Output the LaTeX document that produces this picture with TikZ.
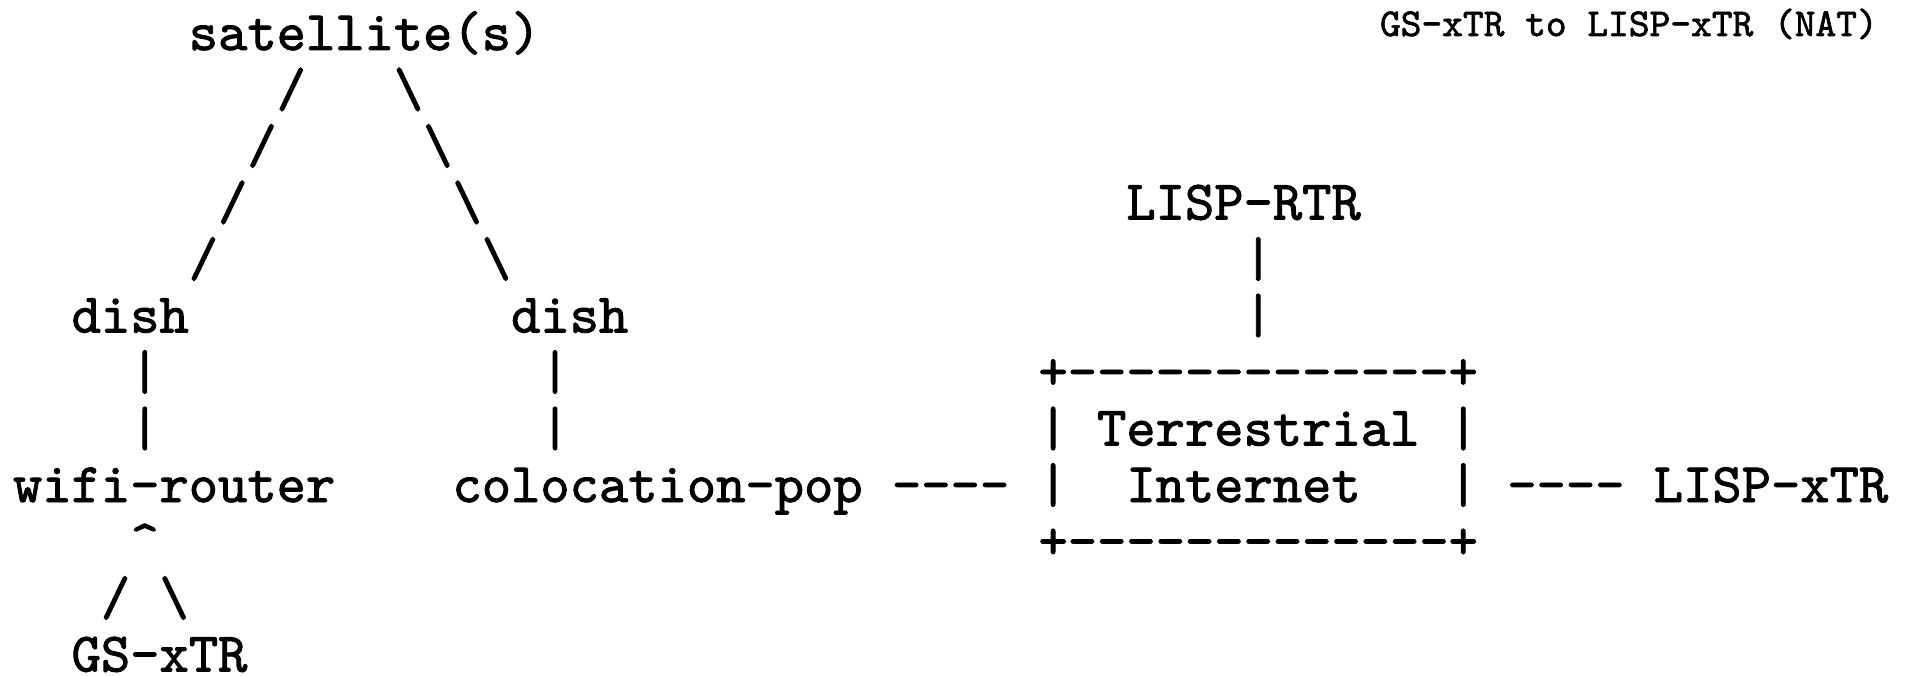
\documentclass[tikz,border=0pt]{standalone}
\usepackage{fontspec}
\setmonofont{lmmono10-regular.otf}[FakeBold=1.6]
\newcommand\asc[4]{\node[asciitxt] (#1) at ({13+29.3*(#2)},{50+56.5*(#3)}) {#4};}
\begin{document}
\begin{tikzpicture}[x=1pt,y=-1pt]
\tikzset{
  asciitxt/.style={anchor=base west, inner sep=0pt, outer sep=0pt, text=black,
    font=\ttfamily\fontsize{55.8}{55.8}\selectfont},
  titletxt/.style={anchor=base west, inner sep=0pt, outer sep=0pt, text=black,
    font=\ttfamily\fontsize{39.5}{39.5}\selectfont}
}
\fill[white] (0,0) rectangle (1915,676);
\useasboundingbox (0,0) rectangle (1915,676);
\node[titletxt] (title) at (1380,36) {GS-xTR to LISP-xTR (NAT)};
% satellite tree
\asc{sat}{6}{0}{satellite(s)}
\asc{sl1}{9}{1}{/}\asc{sr1}{13}{1}{\textbackslash}
\asc{sl2}{8}{2}{/}\asc{sr2}{14}{2}{\textbackslash}
\asc{sl3}{7}{3}{/}\asc{sr3}{15}{3}{\textbackslash}
\asc{sl4}{6}{4}{/}\asc{sr4}{16}{4}{\textbackslash}
\asc{dishL}{2}{5}{dish}\asc{dishR}{17}{5}{dish}
\asc{vl1}{4}{6}{|}\asc{vr1}{18}{6}{|}
\asc{vl2}{4}{7}{|}\asc{vr2}{18}{7}{|}
% RTR
\asc{rtr}{38}{3}{LISP-RTR}
\asc{vt1}{42}{4}{|}
\asc{vt2}{42}{5}{|}
% box
\asc{boxtop}{35}{6}{+-{}-{}-{}-{}-{}-{}-{}-{}-{}-{}-{}-{}-+}
\asc{bl1}{35}{7}{|}\asc{terr}{37}{7}{Terrestrial}\asc{br1}{49}{7}{|}
\asc{bl2}{35}{8}{|}\asc{inet}{38}{8}{Internet}\asc{br2}{49}{8}{|}
\asc{boxbot}{35}{9}{+-{}-{}-{}-{}-{}-{}-{}-{}-{}-{}-{}-{}-+}
% row 8
\asc{wifi}{0}{8}{wifi-router}
\asc{colo}{15}{8}{colocation-pop}
\asc{dl}{30}{8}{-{}-{}-{}-}
\asc{dr}{51}{8}{-{}-{}-{}-}
\asc{lxtr}{56}{8}{LISP-xTR}
% GS-xTR
\asc{caret}{4}{9}{\textasciicircum}
\asc{gl}{3}{10}{/}\asc{gr}{5}{10}{\textbackslash}
\asc{gs}{2}{11}{GS-xTR}
\end{tikzpicture}
\end{document}
